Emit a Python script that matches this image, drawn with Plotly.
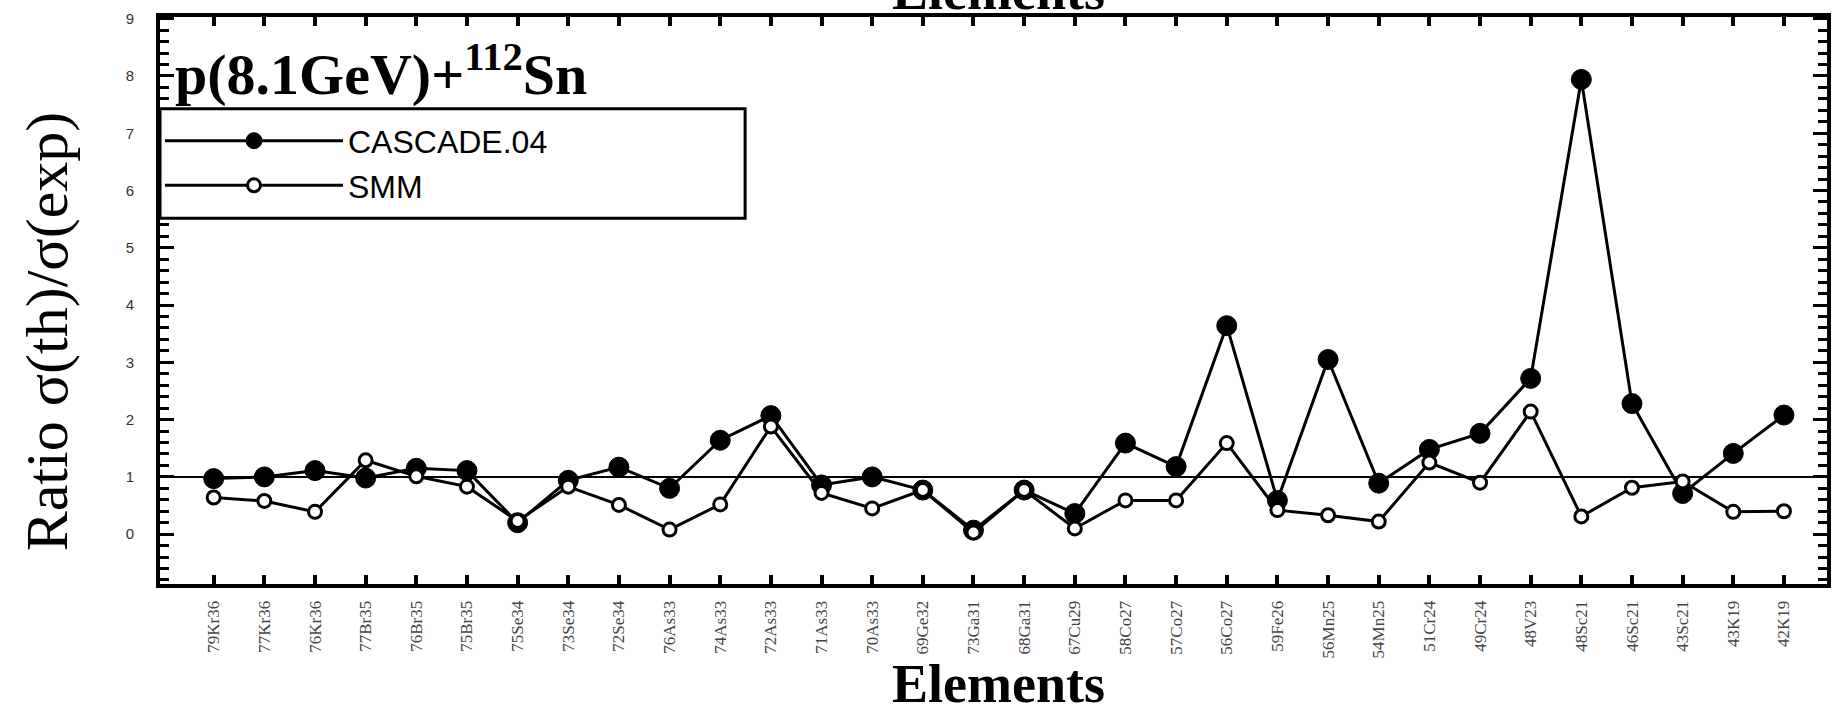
import plotly.graph_objects as go

elements = ["79Kr36", "77Kr36", "76Kr36", "77Br35", "76Br35", "75Br35", "75Se34", "73Se34",
            "72Se34", "76As33", "74As33", "72As33", "71As33", "70As33", "69Ge32", "73Ga31",
            "68Ga31", "67Cu29", "58Co27", "57Co27", "56Co27", "59Fe26", "56Mn25", "54Mn25",
            "51Cr24", "49Cr24", "48V23", "48Sc21", "46Sc21", "43Sc21", "43K19", "42K19"]

cascade = [0.97, 1.00, 1.11, 0.98, 1.15, 1.11, 0.20, 0.94,
           1.17, 0.80, 1.64, 2.07, 0.86, 1.00, 0.77, 0.07,
           0.77, 0.36, 1.59, 1.18, 3.64, 0.59, 3.05, 0.89,
           1.48, 1.76, 2.72, 7.94, 2.28, 0.71, 1.41, 2.08]

smm = [0.64, 0.58, 0.39, 1.29, 1.01, 0.83, 0.23, 0.83,
       0.51, 0.08, 0.52, 1.88, 0.72, 0.45, 0.77, 0.03,
       0.77, 0.10, 0.59, 0.59, 1.59, 0.42, 0.33, 0.22,
       1.25, 0.90, 2.14, 0.31, 0.81, 0.92, 0.39, 0.40]

y_ticks = list(range(0, 10))
ref_level = 1

idx = list(range(len(elements)))

fig = go.Figure()
fig.add_trace(go.Scatter(
    x=idx, y=cascade, mode="lines+markers", name="CASCADE.04",
    line=dict(color="black", width=3),
    marker=dict(symbol="circle", size=20, color="black", line=dict(color="black", width=1)),
))
fig.add_trace(go.Scatter(
    x=idx, y=smm, mode="lines+markers", name="SMM",
    line=dict(color="black", width=3),
    marker=dict(symbol="circle", size=13, color="white", line=dict(color="black", width=3)),
))

fig.add_shape(type="line", xref="paper", x0=0, x1=1, yref="y", y0=ref_level, y1=ref_level,
              line=dict(color="black", width=2), layer="below")

# legend frame
fig.add_shape(type="rect", xref="paper", yref="paper", x0=0, x1=0.351, y0=0.645, y1=0.838,
              line=dict(color="black", width=3), fillcolor="white", layer="above")

fig.update_layout(
    width=1834, height=708,
    margin=dict(l=160, r=3, t=17, b=124),
    paper_bgcolor="white", plot_bgcolor="white",
    showlegend=True,
    legend=dict(
        x=0.0, y=0.83, xanchor="left", yanchor="top",
        bgcolor="rgba(0,0,0,0)", borderwidth=0,
        font=dict(family="Liberation Sans", size=32, color="black"),
        itemwidth=178, tracegroupgap=0,
    ),
    xaxis=dict(
        range=[-1.06, 31.85],
        tickmode="array", tickvals=idx, ticktext=elements,
        tickangle=-90,
        tickfont=dict(family="Liberation Serif", size=17, color="#444444"),
        ticks="inside", ticklen=9, tickwidth=4, tickcolor="black",
        showline=True, linecolor="black", linewidth=4, mirror="ticks",
        showgrid=False, zeroline=False,
        ticklabelstandoff=6,
    ),
    yaxis=dict(
        range=[-0.87, 9.03],
        tickmode="array", tickvals=y_ticks,
        tickfont=dict(family="Liberation Sans", size=15, color="#333333"),
        ticks="inside", ticklen=14, tickwidth=3, tickcolor="black",
        minor=dict(ticks="inside", ticklen=9, tickwidth=3, tickcolor="black", dtick=0.2,
                   showgrid=False),
        showline=True, linecolor="black", linewidth=4, mirror="ticks",
        showgrid=False, zeroline=False,
        ticklabelstandoff=19,
    ),
)

fig.add_annotation(
    text="<b>p(8.1GeV)+<sup>112</sup>Sn</b>", xref="paper", yref="paper",
    x=0.008, y=0.906, xanchor="left", yanchor="middle", showarrow=False,
    font=dict(family="Liberation Serif", size=58, color="black"),
)
fig.add_annotation(
    text="Ratio σ(th)/σ(exp)", xref="paper", yref="paper",
    x=-0.068, y=0.445, xanchor="center", yanchor="middle", showarrow=False,
    textangle=-90,
    font=dict(family="Liberation Serif", size=60, color="black"),
)
fig.add_annotation(
    text="<b>Elements</b>", xref="paper", yref="paper",
    x=0.503, y=-0.176, xanchor="center", yanchor="middle", showarrow=False,
    font=dict(family="Liberation Serif", size=54, color="black"),
)
fig.add_annotation(
    text="<b>Elements</b>", xref="paper", yref="paper",
    x=0.503, y=1.0, xanchor="center", yanchor="bottom", yshift=-6, showarrow=False,
    font=dict(family="Liberation Serif", size=54, color="black"),
)

fig.write_html("out.html")
